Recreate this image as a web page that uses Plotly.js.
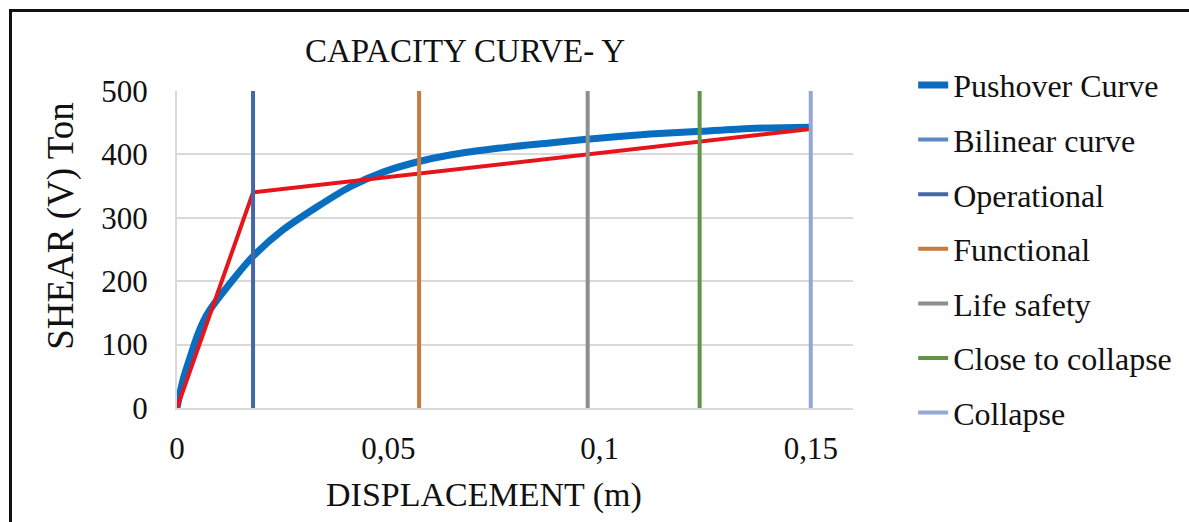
<!DOCTYPE html>
<html>
<head>
<meta charset="utf-8">
<script src="https://cdn.plot.ly/plotly-3.0.1.min.js"></script>
<style>
  html, body { margin: 0; padding: 0; background: #fff; }
  #wrap { position: relative; width: 1189px; height: 522px; overflow: hidden; }
  #chart { width: 1189px; height: 522px; }
  #frame { position: absolute; left: 9px; top: 9px; right: -10px; bottom: -10px;
           border-left: 3px solid #111; border-top: 3px solid #111; pointer-events: none; }
</style>
</head>
<body>
<div id="wrap">
  <div id="chart"></div>
  <div id="frame"></div>
</div>
<script>
// Pushover curve (displacement m, shear Ton)
const pushX = [0, 0.0014, 0.0031, 0.0047, 0.0062, 0.0078, 0.0132, 0.0178, 0.0251, 0.0331, 0.041, 0.0488, 0.0568, 0.0646, 0.0764, 0.0882, 0.097, 0.112, 0.123, 0.1356, 0.1497];
const pushY = [0, 44, 80, 112, 136, 155, 202, 238, 281, 317, 349, 372, 388, 399, 410, 418, 424, 432, 436, 441, 443];

// Bilinear curve
const bilinX = [0, 0.018, 0.15];
const bilinY = [0, 340, 440];

// Performance levels (vertical lines)
const levelNames = ["Operational", "Functional", "Life safety", "Close to collapse", "Collapse"];
const levelX = [0.018, 0.0573, 0.0972, 0.1237, 0.15];
const levelYRange = [0, 500];

const xTicks = [0, 0.05, 0.1, 0.15];
const xTickText = ["0", "0,05", "0,1", "0,15"];
const yTicks = [0, 100, 200, 300, 400, 500];

const chartTitle = "CAPACITY CURVE- Y";
const xTitle = "DISPLACEMENT (m)";
const yTitle = "SHEAR (V) Ton";

const levelColors = ["#4467A8", "#C97A3E", "#8E8E8E", "#62954A", "#94A8D6"];

const FONT = '"Liberation Serif", "Times New Roman", serif';

const traces = [];
traces.push({
  x: pushX, y: pushY, mode: "lines", name: "Pushover Curve",
  line: { color: "#0A6EC0", width: 7, shape: "spline", smoothing: 0.7 }, legendgroup: "g1"
});
traces.push({
  x: bilinX, y: bilinY, mode: "lines", name: "Bilinear curve",
  line: { color: "#E8141B", width: 4 }, showlegend: false, legendgroup: "g2"
});
traces.push({
  x: [null], y: [null], mode: "lines", name: "Bilinear curve",
  line: { color: "#5B8AC2", width: 4 }, legendgroup: "g2"
});
levelNames.forEach((n, i) => {
  traces.push({
    x: [levelX[i], levelX[i]], y: levelYRange, mode: "lines", name: n,
    line: { color: levelColors[i], width: 4 }, legendgroup: "g" + (i + 3)
  });
});

const layout = {
  width: 1189, height: 522,
  margin: { l: 177, r: 336, t: 91, b: 114 },
  paper_bgcolor: "#fff", plot_bgcolor: "#fff",
  font: { family: FONT, color: "#111", size: 30 },
  title: {
    text: chartTitle,
    font: { family: FONT, size: 33, color: "#111" },
    x: 0.426, xref: "paper", xanchor: "center",
    y: 0.904, yref: "container", yanchor: "middle"
  },
  xaxis: {
    range: [0, 0.16], tickvals: xTicks, ticktext: xTickText,
    showgrid: false, zeroline: false,
    showline: true, linecolor: "#D9D9D9", linewidth: 2,
    ticks: "", ticklabelstandoff: 12,
    tickfont: { family: FONT, size: 31, color: "#111" },
    automargin: false, fixedrange: true
  },
  yaxis: {
    range: [0, 500], tickvals: yTicks,
    showgrid: true, gridcolor: "#D9D9D9", gridwidth: 2, zeroline: false,
    showline: true, linecolor: "#D9D9D9", linewidth: 2,
    ticks: "", ticklabelstandoff: 21,
    tickfont: { family: FONT, size: 31, color: "#111" },
    automargin: false, fixedrange: true
  },
  annotations: [
    { text: xTitle, xref: "paper", yref: "paper", x: 0.454, y: -0.275,
      xanchor: "center", yanchor: "middle", showarrow: false,
      font: { family: FONT, size: 34, color: "#111" } },
    { text: yTitle, xref: "paper", yref: "paper", x: -0.172, y: 0.574,
      xanchor: "center", yanchor: "middle", showarrow: false, textangle: -90,
      font: { family: FONT, size: 37, color: "#111" } }
  ],
  legend: {
    x: 1.089, xanchor: "left", y: 1.105, yanchor: "top",
    font: { family: FONT, size: 32, color: "#111" },
    tracegroupgap: 10, traceorder: "grouped",
    maxheight: 480,
    bgcolor: "rgba(0,0,0,0)"
  },
  showlegend: true
};

Plotly.newPlot("chart", traces, layout, { displayModeBar: false, staticPlot: true });
</script>
</body>
</html>
